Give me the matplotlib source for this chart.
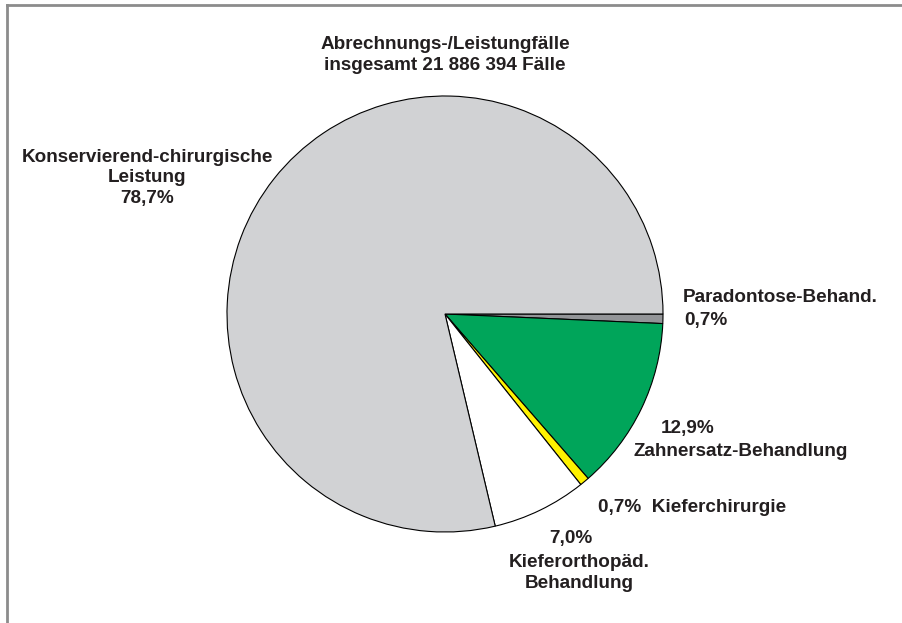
import matplotlib.pyplot as plt
from matplotlib.lines import Line2D

plt.rcParams['font.family'] = ['Liberation Sans', 'DejaVu Sans']

# Anteile in Prozent (im Uhrzeigersinn ab 3 Uhr)
categories = ['Paradontose-Behand.', 'Zahnersatz-Behandlung', 'Kieferchirurgie',
              'Kieferorthopäd. Behandlung', 'Konservierend-chirurgische Leistung']
shares = [0.7, 12.9, 0.7, 7.0, 78.7]
colors = ['#939598', '#00a55a', '#fff200', '#ffffff', '#d1d2d4']

title = 'Abrechnungs-/Leistungfälle\ninsgesamt 21 886 394 Fälle'
W, H = 902, 623

fig = plt.figure(figsize=(W / 100, H / 100), dpi=100)
ax = fig.add_axes([0, 0, 1, 1])

ax.pie(shares, colors=colors, startangle=0, counterclock=False,
       center=(445, H - 314), radius=218, frame=True,
       wedgeprops=dict(edgecolor='black', linewidth=0.8))
ax.set_xlim(0, W)
ax.set_ylim(0, H)
ax.set_aspect('equal')
ax.axis('off')

# Rahmen oben und links
fig.add_artist(Line2D([7 / W, 1], [1 - 5 / H, 1 - 5 / H], transform=fig.transFigure,
                      color='#8c8c8c', linewidth=2))
fig.add_artist(Line2D([7 / W, 7 / W], [0, 1 - 5 / H], transform=fig.transFigure,
                      color='#8c8c8c', linewidth=2))

fs = 13.6
tc = '#231f20'


def pct(v):
    return f'{v:.1f}%'.replace('.', ',')


def txt(x, y, s, ha='center'):
    ax.text(x, H - y, s, ha=ha, va='center', fontsize=fs, fontweight='bold',
            color=tc, linespacing=1.3)


txt(445, 55, title)
txt(147, 178, 'Konservierend-chirurgische\nLeistung\n' + pct(shares[4]))
txt(683, 297, categories[0], ha='left')
txt(684, 321, pct(shares[0]), ha='left')
txt(661, 428, pct(shares[1]), ha='left')
txt(633, 451, categories[1], ha='left')
txt(598, 507, pct(shares[2]) + '  ' + categories[2], ha='left')
txt(571, 538, pct(shares[3]))
txt(579, 573, 'Kieferorthopäd.\nBehandlung')

fig.savefig('out.png', dpi=100)
